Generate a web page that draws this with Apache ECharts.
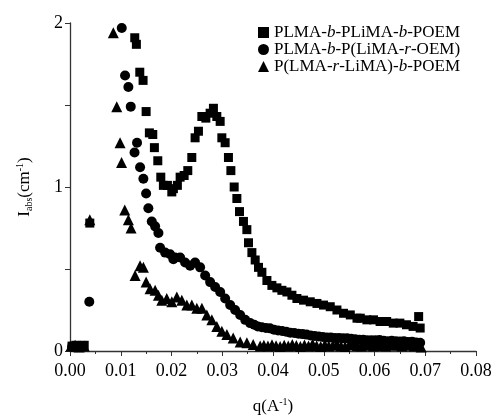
<!DOCTYPE html>
<html><head><meta charset="utf-8">
<script src="https://cdn.jsdelivr.net/npm/echarts@6/dist/echarts.min.js"></script>
<style>html,body{margin:0;padding:0;background:#fff}#c{width:495px;height:418px}</style>
</head><body><div id="c"></div>
<script>
// ---- data ----
const seriesNames = ['PLMA-b-PLiMA-b-POEM', 'PLMA-b-P(LiMA-r-OEM)', 'P(LMA-r-LiMA)-b-POEM'];
const xTicks = ['0.00','0.01','0.02','0.03','0.04','0.05','0.06','0.07','0.08'];
const yTicks = ['0','1','2'];

const sqQ = [0.0004,0.0012,0.0020,0.0028,0.0039,0.01276,0.01308,0.01375,0.0144,0.0150,0.01564,0.01631,0.01663,0.0173,0.01789,0.0184,0.0192,0.02006,0.02037,0.02116,0.0217,0.02249,0.02321,0.0240,0.02465,0.02531,0.02598,0.02677,0.02761,0.02826,0.02893,0.02959,0.02992,0.03057,0.03122,0.0317,0.03235,0.03288,0.0334,0.03418,0.03485,0.03517,0.03584,0.03649,0.03714,0.03781,0.0388,0.03978,0.04077,0.04175,0.04274,0.04373,0.04471,0.04602,0.04734,0.04866,0.04996,0.05128,0.0526,0.0539,0.05523,0.05655,0.0572,0.0585,0.0598,0.0611,0.0624,0.0637,0.0650,0.0663,0.0676,0.0687,0.0690];
const sqI = [0.03,0.035,0.03,0.035,0.78,1.91,1.87,1.70,1.65,1.46,1.33,1.32,1.24,1.16,1.06,1.01,1.01,0.97,0.99,1.01,1.06,1.07,1.10,1.18,1.30,1.34,1.43,1.42,1.45,1.48,1.43,1.40,1.30,1.27,1.18,1.10,1.00,0.93,0.85,0.79,0.74,0.66,0.60,0.555,0.51,0.48,0.43,0.40,0.385,0.37,0.36,0.34,0.32,0.31,0.30,0.29,0.28,0.27,0.25,0.23,0.22,0.20,0.20,0.19,0.19,0.18,0.18,0.17,0.17,0.16,0.15,0.21,0.14];

const ciQ = [0.0004,0.0014,0.0024,0.0038,0.0102,0.01085,0.0115,0.01197,0.01272,0.01321,0.01381,0.01446,0.0150,0.01544,0.01611,0.01677,0.01742,0.01775,0.01874,0.01972,0.02037,0.02071,0.0217,0.02268,0.02367,0.02465,0.02564,0.02663,0.02761,0.0286,0.02959,0.03057,0.03156,0.03254,0.03353,0.03452,0.0355,0.0363,0.0370,0.0378,0.0386,0.0394,0.0402,0.0410,0.0418,0.0426,0.0434,0.0442,0.0450,0.0458,0.0466,0.0474,0.0482,0.0490,0.0498,0.0506,0.0514,0.0522,0.0530,0.0538,0.0546,0.0554,0.0562,0.0570,0.0578,0.0586,0.0594,0.0602,0.0610,0.0618,0.0626,0.0634,0.0642,0.0650,0.0658,0.0666,0.0674,0.0682,0.0690];
const ciI = [0.025,0.03,0.025,0.30,1.97,1.68,1.61,1.49,1.21,1.27,1.12,1.05,0.96,0.87,0.79,0.76,0.72,0.63,0.60,0.59,0.56,0.57,0.57,0.54,0.52,0.54,0.51,0.46,0.42,0.39,0.36,0.32,0.28,0.25,0.22,0.19,0.17,0.16,0.150,0.145,0.140,0.138,0.130,0.125,0.122,0.118,0.112,0.110,0.105,0.103,0.100,0.095,0.092,0.088,0.085,0.083,0.082,0.080,0.080,0.078,0.078,0.075,0.072,0.068,0.068,0.066,0.066,0.065,0.067,0.062,0.060,0.063,0.060,0.058,0.060,0.055,0.057,0.052,0.050];

const trQ = [0.0002,0.0010,0.0018,0.0028,0.0039,0.00854,0.00921,0.00986,0.01016,0.01079,0.0115,0.01203,0.01282,0.01381,0.01446,0.0150,0.01578,0.01677,0.01742,0.01809,0.01907,0.02006,0.02105,0.02203,0.02302,0.0240,0.02499,0.02598,0.02696,0.02795,0.02893,0.02992,0.03091,0.03215,0.03353,0.03485,0.0361,0.03748,0.0382,0.0390,0.0398,0.0406,0.0414,0.0422,0.0430,0.0438,0.0446,0.0454,0.0462,0.0470,0.0478,0.0486,0.0494,0.0502,0.0510,0.0518,0.0526,0.0534,0.0542,0.0550,0.0558,0.0566,0.0574,0.0582,0.0590,0.0598,0.0606,0.0614,0.0622,0.0630,0.0638,0.0646,0.0654,0.0662,0.0670,0.0678,0.0686,0.0692];
const trI = [0.03,0.035,0.025,0.03,0.80,1.94,1.49,1.27,1.15,0.86,0.80,0.75,0.46,0.52,0.51,0.42,0.38,0.37,0.34,0.31,0.32,0.30,0.33,0.31,0.28,0.28,0.26,0.26,0.22,0.19,0.15,0.12,0.10,0.08,0.055,0.05,0.04,0.03,0.035,0.030,0.038,0.032,0.028,0.035,0.030,0.040,0.033,0.028,0.036,0.030,0.042,0.032,0.028,0.038,0.030,0.035,0.040,0.030,0.028,0.036,0.045,0.032,0.030,0.040,0.035,0.030,0.045,0.033,0.030,0.042,0.035,0.038,0.030,0.040,0.035,0.030,0.040,0.025];

// ---- chart ----
const zip = (a, b) => a.map((v, i) => [v, b[i]]);
const serif = 'Liberation Serif';
const chart = echarts.init(document.getElementById('c'), null, {renderer: 'canvas'});
const legendRich = {i: {fontStyle: 'italic', fontFamily: serif, fontSize: 17, color: '#000'}};
chart.setOption({
  animation: false,
  backgroundColor: '#fff',
  grid: {left: 70, right: 19, top: 23, bottom: 67, outerBoundsMode: 'none', containLabel: false},
  legend: {
    orient: 'vertical', left: 253, top: 19, itemGap: 0,
    itemWidth: 11, itemHeight: 11,
    data: seriesNames,
    textStyle: {fontFamily: serif, fontSize: 17, color: '#000', lineHeight: 16, rich: legendRich},
    formatter: n => n.replace(/-b-/g, '-{i|b}-').replace(/-r-/g, '-{i|r}-')
  },
  xAxis: {
    type: 'value', min: 0, max: 0.08, interval: 0.01,
    name: 'q(A{sup|-1})', nameLocation: 'middle', nameGap: 46,
    nameTextStyle: {fontFamily: serif, fontSize: 17, color: '#000',
      rich: {sup: {fontFamily: serif, fontSize: 10, color: '#000', verticalAlign: 'top', padding: [0,0,10,0]}}},
    axisLine: {lineStyle: {color: '#333', width: 1.3}},
    axisTick: {length: 5, lineStyle: {color: '#333'}},
    minorTick: {show: true, splitNumber: 2, length: 3, lineStyle: {color: '#333'}},
    splitLine: {show: false},
    axisLabel: {fontFamily: serif, fontSize: 18, color: '#000', margin: 11,
      formatter: v => xTicks[Math.round(v * 100)]}
  },
  yAxis: {
    type: 'value', min: 0, max: 2, interval: 1,
    name: 'I{sub|abs}(cm{sup|-1})', nameLocation: 'middle', nameGap: 35, nameRotate: 90,
    nameTextStyle: {fontFamily: serif, fontSize: 17, color: '#000',
      rich: {
        sub: {fontFamily: serif, fontSize: 10, color: '#000', padding: [8,0,0,0]},
        sup: {fontFamily: serif, fontSize: 10, color: '#000', padding: [0,0,10,0]}
      }},
    axisLine: {show: true, lineStyle: {color: '#333', width: 1.3}},
    axisTick: {show: true, length: 5, lineStyle: {color: '#333'}},
    minorTick: {show: true, splitNumber: 2, length: 5, lineStyle: {color: '#333'}},
    splitLine: {show: false},
    axisLabel: {fontFamily: serif, fontSize: 18, color: '#000', margin: 7,
      formatter: v => yTicks[Math.round(v)]}
  },
  series: [
    {name: seriesNames[0], type: 'scatter', symbol: 'rect', symbolSize: 9, itemStyle: {color: '#000', opacity: 1}, data: zip(sqQ, sqI)},
    {name: seriesNames[1], type: 'scatter', symbol: 'circle', symbolSize: 10, itemStyle: {color: '#000', opacity: 1}, data: zip(ciQ, ciI)},
    {name: seriesNames[2], type: 'scatter', symbol: 'triangle', symbolSize: 11, itemStyle: {color: '#000', opacity: 1}, data: zip(trQ, trI)}
  ]
});
</script></body></html>
